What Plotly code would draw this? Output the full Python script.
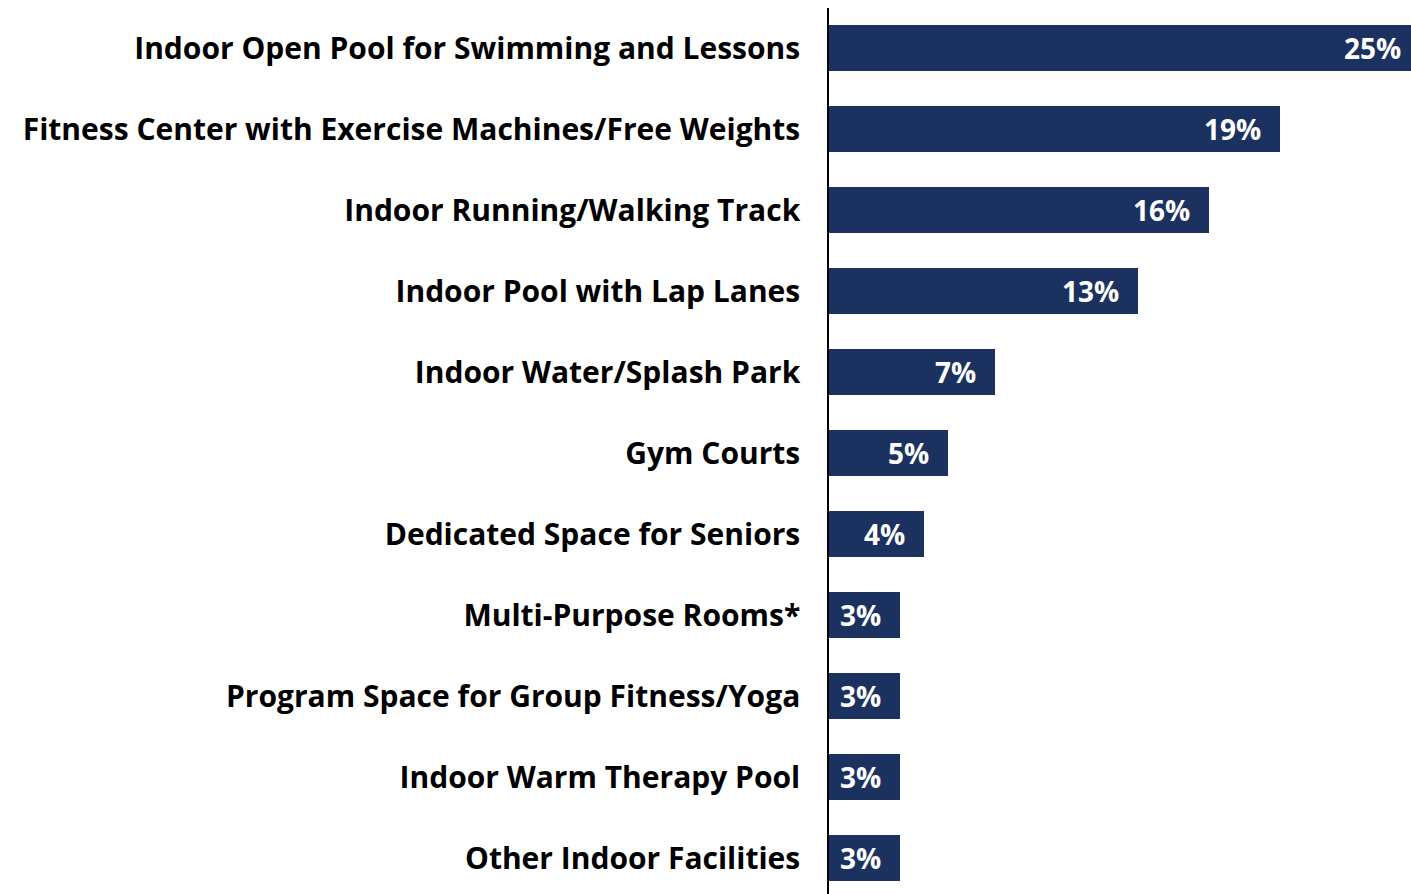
import plotly.graph_objects as go

categories = [
    "Indoor Open Pool for Swimming and Lessons",
    "Fitness Center with Exercise Machines/Free Weights",
    "Indoor Running/Walking Track",
    "Indoor Pool with Lap Lanes",
    "Indoor Water/Splash Park",
    "Gym Courts",
    "Dedicated Space for Seniors",
    "Multi-Purpose Rooms*",
    "Program Space for Group Fitness/Yoga",
    "Indoor Warm Therapy Pool",
    "Other Indoor Facilities",
]
values = [25, 19, 16, 13, 7, 5, 4, 3, 3, 3, 3]
value_labels = [f"{v}%" for v in values]

BAR = "#1b3160"
FONT = "'Open Sans', Lato, sans-serif"
XMAX = 24.5

idx = list(range(len(categories)))

fig = go.Figure()
fig.add_trace(go.Bar(
    x=values, y=idx, orientation="h",
    marker=dict(color=BAR, line=dict(width=0)),
    width=0.568,
    hoverinfo="skip",
))

for i, v, t in zip(idx, values, value_labels):
    clipped = v > XMAX
    fig.add_annotation(
        x=min(v, XMAX), y=i, xref="x", yref="y",
        text=f"<b>{t}</b>", showarrow=False,
        xanchor="right", yanchor="middle",
        xshift=-8 if clipped else -17,
        font=dict(family=FONT, size=28, color="white"),
    )

fig.update_layout(
    width=1411, height=894,
    margin=dict(l=829, r=0, t=8, b=0),
    paper_bgcolor="white", plot_bgcolor="white",
    showlegend=False,
    bargap=0,
)
fig.update_xaxes(range=[0, XMAX], showgrid=False, zeroline=False,
                 showticklabels=False, showline=False, fixedrange=True)
fig.update_yaxes(
    range=[10.444, -0.494], tickmode="array", tickvals=idx,
    ticktext=[f"<b>{c}</b>" for c in categories],
    showgrid=False, zeroline=False, showline=True, linecolor="black",
    linewidth=1.5, ticks="", ticklabelstandoff=21, fixedrange=True,
    tickfont=dict(family=FONT, size=30, color="black"),
)

fig.write_html(
    "out.html",
    config={"displayModeBar": False},
    post_script="document.body.style.margin='0';document.body.style.overflow='hidden';",
)
